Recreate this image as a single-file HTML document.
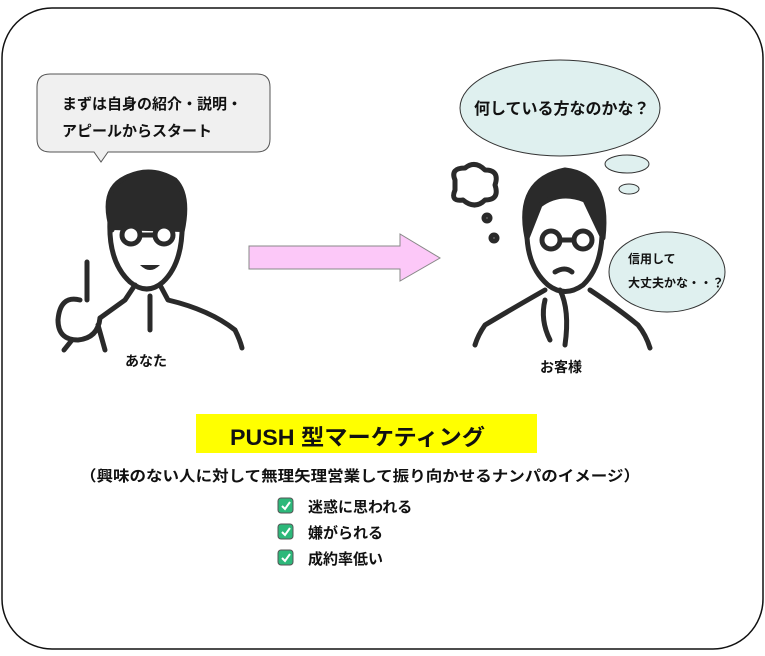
<!DOCTYPE html><html><head><meta charset="utf-8"><style>
body{margin:0;background:#fff}
svg text{font-family:"Liberation Sans","Noto Sans CJK JP",sans-serif;font-weight:bold;fill:#111}
</style></head><body>
<svg width="765" height="651" viewBox="0 0 765 651" xmlns="http://www.w3.org/2000/svg">
<rect x="2" y="8" width="761" height="641" rx="50" fill="#fff" stroke="#111" stroke-width="1.5"/>
<!-- left bubble -->
<path d="M50 74 H257 Q270 74 270 87 V139 Q270 152 257 152 H108 L101 162 L94 152 H50 Q37 152 37 139 V87 Q37 74 50 74Z" fill="#f0f0f0" stroke="#555" stroke-width="1"/>
<text x="62" y="109" font-size="15">まずは自身の紹介・説明・</text>
<text x="62" y="136" font-size="15">アピールからスタート</text>
<!-- arrow -->
<path d="M249 246 H400 V234 L440 258 L400 281 V269 H249Z" fill="#fcc8f8" stroke="#888" stroke-width="1"/>
<!-- left person -->
<g fill="none" stroke="#2a2a2a" stroke-width="5" stroke-linecap="round" stroke-linejoin="round">
<path d="M110 220 Q108 262 130 282 Q147 296 163 282 Q184 262 182 218"/>
<path d="M112 230 Q100 190 125 178 Q150 165 175 180 Q190 195 182 232" fill="#2a2a2a"/>
<circle cx="131" cy="235" r="9" fill="#fff"/><circle cx="164" cy="235" r="9" fill="#fff"/>
<path d="M140 235 H155"/>
<path d="M135 285 L125 300 L100 318"/>
<path d="M160 285 L168 300 Q210 310 235 330 Q240 340 242 348"/>
<path d="M150 296 V330"/>
<path d="M87 262 V300 M80 300 Q60 295 58 320 Q58 340 78 340 Q98 338 100 318 M72 340 L64 350 M98 325 L105 350"/>
</g>
<path d="M140 265 Q150 275 160 265Z" fill="#2a2a2a"/>
<text x="125" y="366" font-size="14">あなた</text>
<!-- right thought bubbles -->
<ellipse cx="560" cy="108" rx="100" ry="48" fill="#dff0ef" stroke="#333"/>
<text x="474" y="114" font-size="16">何している方なのかな？</text>
<ellipse cx="627" cy="164" rx="22" ry="9" fill="#dff0ef" stroke="#333"/>
<ellipse cx="629" cy="189" rx="10" ry="5" fill="#dff0ef" stroke="#333"/>
<ellipse cx="667" cy="272" rx="58" ry="40" fill="#dff0ef" stroke="#333"/>
<text x="628" y="263" font-size="12">信用して</text>
<text x="628" y="287" font-size="12">大丈夫かな・・？</text>
<!-- right person -->
<g fill="none" stroke="#2a2a2a" stroke-width="5" stroke-linecap="round" stroke-linejoin="round">
<path d="M455 180 Q450 168 465 168 Q475 160 485 170 Q500 170 495 185 Q500 200 485 200 Q475 210 463 200 Q450 202 455 190Z"/>
<circle cx="487" cy="218" r="3"/><circle cx="494" cy="238" r="3"/>
<path d="M527 225 Q525 265 548 285 Q565 298 583 285 Q604 265 602 222"/>
<path d="M527 238 Q515 180 565 170 Q610 175 603 238 L585 200 Q560 190 540 205Z" fill="#2a2a2a"/>
<circle cx="551" cy="240" r="9" fill="#fff"/><circle cx="583" cy="240" r="9" fill="#fff"/>
<path d="M560 240 H574"/>
<path d="M555 272 Q565 266 572 272"/>
<path d="M545 290 Q510 310 485 325 Q478 335 475 345"/>
<path d="M590 290 Q620 310 638 325 Q646 335 650 348"/>
<path d="M545 300 Q540 320 550 340 M560 290 Q570 310 565 345"/>
</g>
<text x="540" y="372" font-size="14">お客様</text>
<!-- bottom -->
<rect x="196" y="414" width="341" height="39" fill="#ffff00"/>
<text x="230" y="445" font-size="22" textLength="255" lengthAdjust="spacingAndGlyphs">PUSH 型マーケティング</text>
<text x="80" y="481" font-size="15" textLength="560" lengthAdjust="spacingAndGlyphs">（興味のない人に対して無理矢理営業して振り向かせるナンパのイメージ）</text>
<g>
<rect x="278" y="498" width="15" height="15" rx="3" fill="#2db87a" stroke="#555"/>
<rect x="278" y="524" width="15" height="15" rx="3" fill="#2db87a" stroke="#555"/>
<rect x="278" y="550" width="15" height="15" rx="3" fill="#2db87a" stroke="#555"/>
<path d="M282 506 L285 509 L290 502 M282 532 L285 535 L290 528 M282 558 L285 561 L290 554" stroke="#fff" stroke-width="2" fill="none"/>
</g>
<text x="308" y="512" font-size="15">迷惑に思われる</text>
<text x="308" y="538" font-size="15">嫌がられる</text>
<text x="308" y="564" font-size="15">成約率低い</text>
</svg>
</body></html>
